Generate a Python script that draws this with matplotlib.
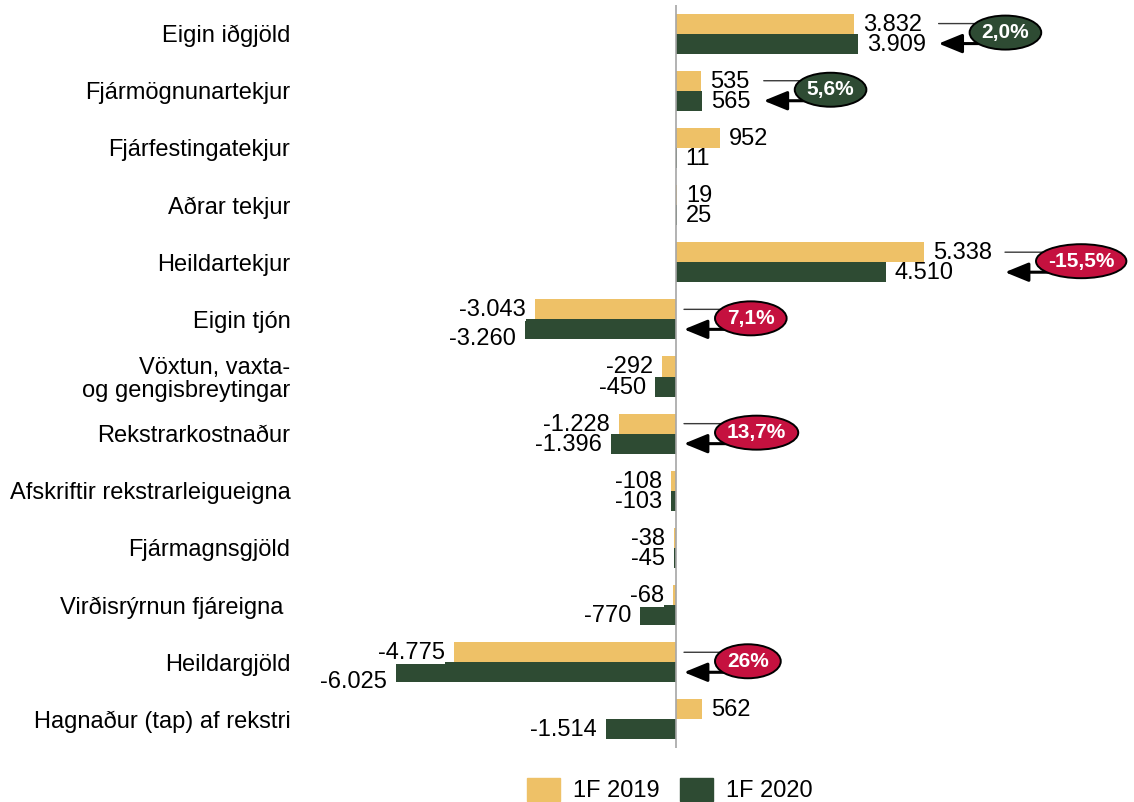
import matplotlib
matplotlib.use("Agg")
import matplotlib.pyplot as plt
from matplotlib.patches import Patch, Ellipse

categories = ["Eigin iðgjöld", "Fjármögnunartekjur", "Fjárfestingatekjur", "Aðrar tekjur",
              "Heildartekjur", "Eigin tjón", "Vöxtun, vaxta-\nog gengisbreytingar",
              "Rekstrarkostnaður", "Afskriftir rekstrarleigueigna", "Fjármagnsgjöld",
              "Virðisrýrnun fjáreigna ", "Heildargjöld", "Hagnaður (tap) af rekstri"]
v2019 = [3832, 535, 952, 19, 5338, -3043, -292, -1228, -108, -38, -68, -4775, 562]
v2020 = [3909, 565, 11, 25, 4510, -3260, -450, -1396, -103, -45, -770, -6025, -1514]
series_names = ["1F 2019", "1F 2020"]

# change annotations: (category index, text, kind)
changes = [(0, "2,0%", "pos"), (1, "5,6%", "pos"), (4, "-15,5%", "neg"),
           (5, "7,1%", "neg"), (7, "13,7%", "neg"), (11, "26%", "neg")]

# rows whose 1F 2020 label is pushed down (collision with 1F 2019 label)
pushed_down = [5, 11]

YELLOW = "#EEC167"
GREEN = "#2E4B33"
RED = "#C5113F"

plt.rcParams["font.family"] = ["Liberation Sans", "DejaVu Sans"]

W, H = 1134, 802
fig = plt.figure(figsize=(W / 100, H / 100), dpi=100)
ax = fig.add_axes([300 / W, 1 - 748 / H, 834 / W, 743 / H])

px_per_unit = 0.04646
ax.set_xlim(-376 / px_per_unit, 458 / px_per_unit)
ax.set_ylim(12.5, -0.5)

bh = 0.35
ys = list(range(len(categories)))
ax.barh([y - bh / 2 for y in ys], v2019, height=bh, color=YELLOW, zorder=2)
ax.barh([y + bh / 2 for y in ys], v2020, height=bh, color=GREEN, zorder=2)

ax.axvline(0, color="#A6A6A6", lw=1.2, zorder=3)


def fmt(v):
    s = f"{abs(v):,}".replace(",", ".")
    return ("-" if v < 0 else "") + s


lab_y, lab_g = [], []
for y, a, b in zip(ys, v2019, v2020):
    for v, yy, store in ((a, y - bh / 2, lab_y), (b, y + bh / 2, lab_g)):
        dy = -10 if (store is lab_g and y in pushed_down) else -1
        off = 9 if v >= 0 else -9
        t = ax.annotate(fmt(v), xy=(v, yy), xytext=(off, dy), textcoords="offset pixels",
                        ha="left" if v >= 0 else "right", va="center", fontsize=17,
                        color="black", zorder=5,
                        bbox=dict(boxstyle="square,pad=0.0", fc="white", ec="none"))
        store.append(t)

ax.set_yticks(ys)
ax.set_yticklabels(categories, fontsize=17)
for lbl in ax.get_yticklabels():
    lbl.set_linespacing(1.05)
ax.tick_params(axis="y", length=0, pad=7)
ax.set_xticks([])
for s in ax.spines.values():
    s.set_visible(False)

fig.canvas.draw()
renderer = fig.canvas.get_renderer()
inv = ax.transData.inverted()
zero_px, _ = ax.transData.transform((0, 0))
ux = ax.transData.transform((1, 0))[0] - zero_px
uy = abs(ax.transData.transform((0, 1))[1] - ax.transData.transform((0, 0))[1])

for idx, txt, kind in changes:
    if v2019[idx] > 0:
        right = max(lab_y[idx].get_window_extent(renderer).x1,
                    lab_g[idx].get_window_extent(renderer).x1)
        start_px = right + 13
    else:
        start_px = zero_px + 8
    xs = inv.transform((start_px, 0))[0]
    fc = GREEN if kind == "pos" else RED
    ax.annotate("", xy=(xs, idx - bh / 2), xytext=(55, 0), textcoords="offset pixels",
                arrowprops=dict(arrowstyle="-", color="#3A3A3A", lw=1.0,
                                shrinkA=0, shrinkB=0), zorder=4)
    ax.annotate("", xy=(xs, idx + bh / 2), xytext=(45, 0), textcoords="offset pixels",
                arrowprops=dict(arrowstyle="-|>,head_length=1.1,head_width=0.45",
                                color="black", lw=2.2, shrinkA=0, shrinkB=0,
                                mutation_scale=13), zorder=4)
    t = ax.text(0, idx, txt, ha="center", va="center", fontsize=15, fontweight="bold",
                color="white", zorder=7)
    tw = t.get_window_extent(renderer).width
    ew = tw + 24
    eh = 34
    cx = xs + (31 + ew / 2) / ux
    cy = idx - 1 / uy
    t.set_x(cx)
    t.set_y(cy)
    ax.add_patch(Ellipse((cx, cy), ew / ux, eh / uy, fc=fc, ec="black", lw=1.4, zorder=6))

handles = [Patch(color=YELLOW), Patch(color=GREEN)]
fig.legend(handles, series_names, loc="center", bbox_to_anchor=(670 / W, 1 - 790 / H),
           ncol=2, frameon=False, fontsize=17, handlelength=1.4, handleheight=1.15,
           handletextpad=0.55, columnspacing=0.85)

fig.savefig("out.png", dpi=100)
